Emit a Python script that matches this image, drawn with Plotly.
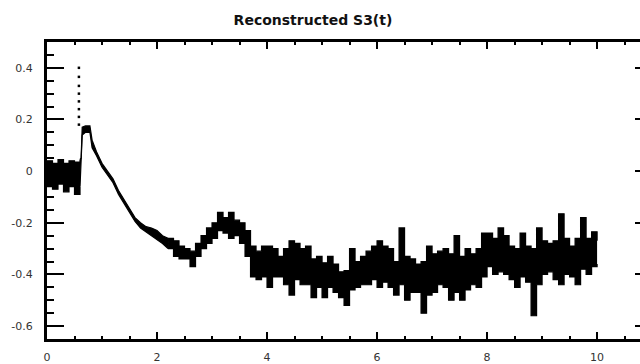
import plotly.graph_objects as go

# Envelope of the reconstructed signal (time, upper, lower)
t_vals = [0.0, 0.1, 0.2, 0.3, 0.4, 0.5, 0.6, 0.62, 0.64, 0.7, 0.78, 0.82, 0.9, 1.0,
          1.1, 1.2, 1.3, 1.4, 1.5, 1.6, 1.7, 1.8, 1.9, 2.0,
          2.1, 2.2, 2.3, 2.4, 2.5, 2.6, 2.7, 2.8, 2.9, 3.0,
          3.1, 3.2, 3.3, 3.4, 3.5, 3.6, 3.7, 3.8, 3.9, 4.0,
          4.1, 4.2, 4.3, 4.4, 4.5, 4.6, 4.7, 4.8, 4.9, 5.0,
          5.1, 5.2, 5.3, 5.4, 5.5, 5.6, 5.7, 5.8, 5.9, 6.0,
          6.1, 6.2, 6.3, 6.4, 6.5, 6.6, 6.7, 6.8, 6.9, 7.0,
          7.1, 7.2, 7.3, 7.4, 7.5, 7.6, 7.7, 7.8, 7.9, 8.0,
          8.1, 8.2, 8.3, 8.4, 8.5, 8.6, 8.7, 8.8, 8.9, 9.0,
          9.1, 9.2, 9.3, 9.4, 9.5, 9.6, 9.7, 9.8, 9.9, 10.0]
y_upper = [0.04, 0.03, 0.045, 0.03, 0.04, 0.035, 0.045, 0.05, 0.17, 0.175, 0.175, 0.12, 0.075, 0.03,
           0.0, -0.03, -0.075, -0.11, -0.145, -0.18, -0.2, -0.215, -0.22, -0.23,
           -0.25, -0.26, -0.27, -0.29, -0.3, -0.31, -0.28, -0.25, -0.22, -0.2,
           -0.16, -0.18, -0.16, -0.19, -0.2, -0.23, -0.29, -0.31, -0.29, -0.29,
           -0.30, -0.33, -0.30, -0.27, -0.28, -0.30, -0.29, -0.34, -0.33, -0.355,
           -0.33, -0.36, -0.39, -0.385, -0.30, -0.35, -0.33, -0.31, -0.29, -0.27,
           -0.29, -0.30, -0.35, -0.22, -0.33, -0.34, -0.36, -0.35, -0.29, -0.32,
           -0.31, -0.30, -0.32, -0.25, -0.33, -0.30, -0.32, -0.30, -0.24, -0.24,
           -0.26, -0.22, -0.25, -0.29, -0.30, -0.24, -0.29, -0.30, -0.22, -0.27,
           -0.28, -0.27, -0.165, -0.26, -0.29, -0.26, -0.18, -0.26, -0.235, -0.27]
y_lower = [-0.06, -0.07, -0.05, -0.08, -0.06, -0.09, -0.06, 0.03, 0.14, 0.15, 0.15, 0.09, 0.06, 0.015,
           -0.015, -0.045, -0.09, -0.125, -0.16, -0.195, -0.22, -0.235, -0.25, -0.265,
           -0.28, -0.30, -0.33, -0.34, -0.34, -0.37, -0.33, -0.30, -0.28, -0.26,
           -0.23, -0.24, -0.26, -0.25, -0.28, -0.33, -0.41, -0.42, -0.41, -0.45,
           -0.41, -0.41, -0.44, -0.48, -0.42, -0.44, -0.44, -0.49, -0.45, -0.49,
           -0.45, -0.47, -0.49, -0.52, -0.46, -0.45, -0.44, -0.44, -0.42, -0.45,
           -0.43, -0.45, -0.48, -0.44, -0.50, -0.47, -0.47, -0.55, -0.48, -0.47,
           -0.44, -0.45, -0.50, -0.47, -0.50, -0.46, -0.44, -0.45, -0.41, -0.37,
           -0.40, -0.39, -0.40, -0.42, -0.45, -0.41, -0.43, -0.56, -0.44, -0.40,
           -0.39, -0.42, -0.44, -0.40, -0.41, -0.44, -0.38, -0.40, -0.37, -0.36]

# Isolated spike of dots near t = 0.58
spike_t = [0.58] * 8
spike_y = [0.40, 0.365, 0.33, 0.30, 0.27, 0.24, 0.21, 0.18]

y_major = [-0.6, -0.4, -0.2, 0, 0.2, 0.4]
y_major_labels = ["-0.6", "-0.4", "-0.2", "0", "0.2", "0.4"]
x_major = [0, 2, 4, 6, 8, 10]
x_major_labels = ["0", "2", "4", "6", "8", "10"]

X_RANGE = [0, 10.78]
Y_RANGE = [-0.65, 0.5]
SMOOTH_END = 2.2   # smooth decay drawn with straight segments, noisy part as steps

fig = go.Figure()


def add_band(ts, lo, hi, shape):
    fig.add_trace(go.Scatter(x=ts, y=lo, mode="lines", line_shape=shape,
                             line=dict(color="black", width=1.2), hoverinfo="skip"))
    fig.add_trace(go.Scatter(x=ts, y=hi, mode="lines", fill="tonexty", line_shape=shape,
                             fillcolor="black", line=dict(color="black", width=1.2),
                             hoverinfo="skip"))


idx_a = [i for i, t in enumerate(t_vals) if 0.6 <= t <= SMOOTH_END]
idx_b = [i for i, t in enumerate(t_vals) if t >= SMOOTH_END]
idx_0 = [i for i, t in enumerate(t_vals) if t <= 0.6]
for idx, shape in ((idx_0, "hv"), (idx_a, "linear"), (idx_b, "hv")):
    add_band([t_vals[i] for i in idx], [y_lower[i] for i in idx],
             [y_upper[i] for i in idx], shape)

fig.add_trace(go.Scatter(x=spike_t, y=spike_y, mode="markers",
                         marker=dict(color="black", size=2.5, symbol="square",
                                     line=dict(width=0)),
                         hoverinfo="skip"))
# invisible trace to anchor the right-hand tick axis
fig.add_trace(go.Scatter(x=[0], y=[0], yaxis="y2", mode="markers",
                         marker=dict(opacity=0), hoverinfo="skip"))

tick_font = dict(family="DejaVu Sans", size=11, color="#333333")

fig.update_layout(
    width=640, height=364,
    margin=dict(l=47, r=0, t=42, b=21),
    paper_bgcolor="white", plot_bgcolor="white",
    showlegend=False,
    title=dict(text="<b>Reconstructed S3(t)</b>", x=313 / 640, xanchor="center",
               y=1 - 20 / 364, yanchor="middle",
               font=dict(family="DejaVu Sans", size=14, color="#111111")),
    xaxis=dict(range=X_RANGE, showgrid=False, zeroline=False,
               showline=True, linecolor="black", linewidth=3, mirror="ticks",
               ticks="inside", ticklen=7, tickwidth=2, tickcolor="black",
               tickvals=x_major, ticktext=x_major_labels, tickfont=tick_font,
               ticklabelstandoff=6,
               minor=dict(ticks="inside", ticklen=3, tickwidth=2, dtick=0.5,
                          tickcolor="black", showgrid=False)),
    yaxis=dict(range=Y_RANGE, showgrid=False, zeroline=False,
               showline=True, linecolor="black", linewidth=3, mirror=False,
               ticks="inside", ticklen=17, tickwidth=2, tickcolor="black",
               tickvals=y_major, ticktext=y_major_labels, tickfont=tick_font,
               ticklabelstandoff=9,
               minor=dict(ticks="inside", ticklen=7, tickwidth=2, dtick=0.05,
                          tick0=0, tickcolor="black", showgrid=False)),
    yaxis2=dict(range=Y_RANGE, overlaying="y", side="right", showgrid=False,
                zeroline=False, showline=False, ticks="inside", ticklen=5,
                tickwidth=2, tickcolor="black", tickvals=y_major,
                showticklabels=False),
)

fig.write_html("out.html")
